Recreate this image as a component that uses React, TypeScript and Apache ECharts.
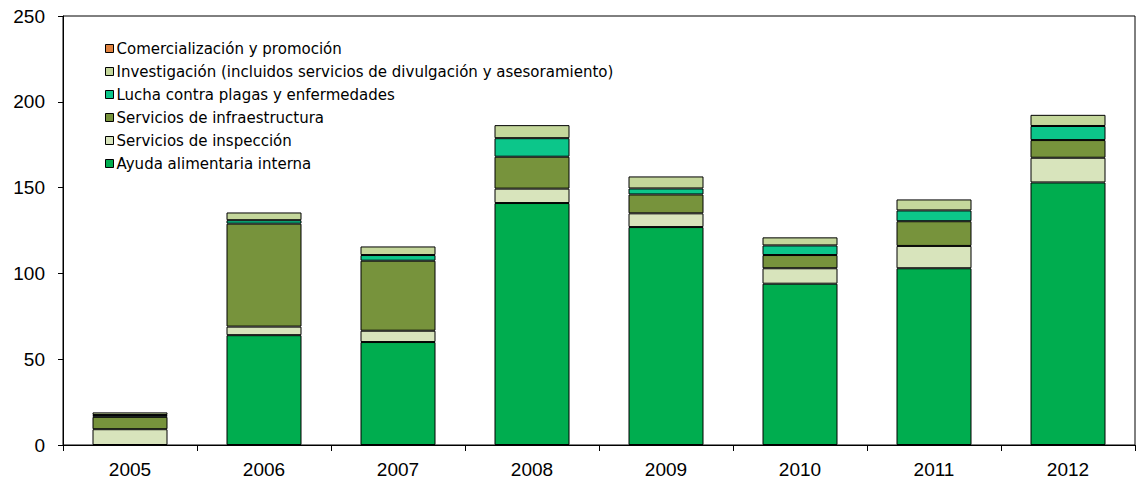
import React, { useEffect, useRef } from "react";
import * as echarts from "echarts";

const years = ["2005", "2006", "2007", "2008", "2009", "2010", "2011", "2012"];
const ayuda = [0, 64, 60, 141, 127, 94, 103, 153];
const inspeccion = [9.2, 5, 6.6, 8.4, 8, 9, 13, 14.4];
const infraestructura = [7.2, 60, 40.8, 18.6, 11, 7.7, 14.4, 10.3];
const lucha = [1.1, 2, 3.3, 10.8, 3.5, 5.6, 6.3, 8.2];
const investigacion = [1.5, 4.5, 5, 7.6, 7, 4.7, 6.4, 6.5];
const comercializacion = [0, 0, 0, 0, 0, 0, 0, 0];

const seriesDefs = [
  { name: "Ayuda alimentaria interna", data: ayuda, color: "#00AD4F" },
  { name: "Servicios de inspección", data: inspeccion, color: "#D8E4BC" },
  { name: "Servicios de infraestructura", data: infraestructura, color: "#77933C" },
  { name: "Lucha contra plagas y enfermedades", data: lucha, color: "#0CC68A" },
  { name: "Investigación (incluidos servicios de divulgación y asesoramiento)", data: investigacion, color: "#C4D79B" },
  { name: "Comercialización y promoción", data: comercializacion, color: "#E0823F" },
];

export default function App() {
  const ref = useRef<HTMLDivElement>(null);
  useEffect(() => {
    if (!ref.current) return;
    const chart = echarts.init(ref.current, undefined, { renderer: "svg" });
    chart.setOption({
      animation: false,
      backgroundColor: "#ffffff",
      textStyle: { fontFamily: "Arial, 'Liberation Sans', sans-serif" },
      grid: {
        left: 63,
        top: 16,
        right: 3,
        bottom: 36,
        show: true,
        borderColor: "#000",
        borderWidth: 1,
      },
      legend: {
        orient: "vertical",
        left: 105,
        top: 41,
        padding: 0,
        itemWidth: 8,
        itemHeight: 8,
        itemGap: 8,
        icon: "rect",
        data: seriesDefs.map((s) => s.name).reverse(),
        itemStyle: { borderColor: "#000", borderWidth: 1 },
        textStyle: {
          fontFamily: "'DejaVu Sans', Verdana, sans-serif",
          fontSize: 15,
          lineHeight: 15,
          color: "#000",
          padding: [0, 0, 0, -2],
        },
      },
      xAxis: {
        type: "category",
        data: years,
        axisLine: { lineStyle: { color: "#000", width: 1 } },
        axisTick: { show: true, interval: 0, length: 6, lineStyle: { color: "#000" } },
        axisLabel: { color: "#000", fontSize: 19, margin: 15, fontFamily: "Arial, 'Liberation Sans', sans-serif" },
      },
      yAxis: {
        type: "value",
        min: 0,
        max: 250,
        interval: 50,
        axisLine: { show: true, lineStyle: { color: "#000", width: 1 } },
        axisTick: { show: true, length: 5, lineStyle: { color: "#000" } },
        axisLabel: { color: "#000", fontSize: 19, margin: 18, fontFamily: "Arial, 'Liberation Sans', sans-serif" },
        splitLine: { show: false },
      },
      series: seriesDefs.map((s) => ({
        name: s.name,
        type: "bar",
        stack: "total",
        barWidth: 75,
        data: s.data.map((v) => (v === 0 ? "-" : v)),
        itemStyle: { color: s.color, borderColor: "#000", borderWidth: 1 },
      })),
    });
    return () => chart.dispose();
  }, []);
  return (
    <div
      ref={ref}
      style={{ position: "fixed", left: 0, top: 0, width: 1138, height: 481, background: "#fff" }}
    />
  );
}
